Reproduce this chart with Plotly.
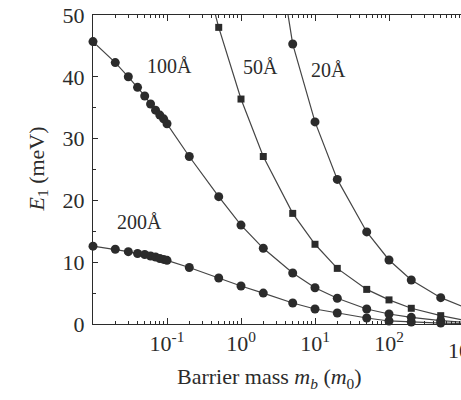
import numpy as np
import plotly.graph_objects as go

# Barrier effective mass (units of m0)
mass_200 = [0.01, 0.02, 0.03, 0.04, 0.05, 0.06, 0.07, 0.08, 0.09, 0.1,
            0.2, 0.5, 1, 2, 5, 10, 20, 50, 100, 200, 500, 1000]
e1_200 = [12.6, 12.1, 11.7, 11.4, 11.25, 11.0, 10.85, 10.6, 10.45, 10.3,
          9.15, 7.45, 6.15, 5.0, 3.4, 2.43, 1.78, 0.97, 0.49, 0.32, 0.15, 0.08]

mass_100 = [0.01, 0.02, 0.03, 0.04, 0.05, 0.06, 0.07, 0.08, 0.09, 0.1,
            0.2, 0.5, 1, 2, 5, 10, 20, 50, 100, 200, 500, 1000]
e1_100 = [45.7, 42.3, 40.0, 38.3, 36.9, 35.6, 34.6, 33.8, 33.2, 32.4,
          27.1, 20.6, 16.0, 12.25, 8.25, 5.87, 4.16, 2.43, 1.62, 1.08, 0.53, 0.3]

mass_50 = [0.2, 0.5, 1, 2, 5, 10, 20, 50, 100, 200, 500, 1000]
e1_50 = [66.0, 48.0, 36.4, 27.1, 17.9, 12.9, 9.0, 5.6, 3.9, 2.54, 1.35, 0.65]

mass_20 = [2, 5, 10, 20, 50, 100, 200, 500, 1000]
e1_20 = [75.0, 45.3, 32.7, 23.4, 14.9, 10.36, 7.12, 4.26, 2.8]

well_labels = ["100Å", "50Å", "20Å", "200Å"]
label_pos = [(-0.96, 41.7), (0.257, 41.6), (1.176, 41.1), (-1.378, 16.5)]

major_ticks = [0.1, 1, 10, 100]
major_text = ["10<sup>-1</sup>", "10<sup>0</sup>", "10<sup>1</sup>", "10<sup>2</sup>"]
minor_ticks = [m * 10.0 ** d for d in range(-2, 3) for m in range(2, 10)]

INK = "#2b2b2b"
LINE = "#454545"
SERIF = "Liberation Serif, Times New Roman, serif"

fig = go.Figure()

series = [
    (mass_200, e1_200, "circle", 9),
    (mass_100, e1_100, "circle", 9),
    (mass_50, e1_50, "square", 7),
    (mass_20, e1_20, "circle", 9),
]
for xs, ys, sym, size in series:
    fig.add_trace(go.Scatter(
        x=xs, y=ys, mode="lines+markers",
        line=dict(color=LINE, width=1.2),
        marker=dict(symbol=sym, size=size, color=INK),
        cliponaxis=False, showlegend=False,
    ))

# curve labels
for text, (lx, ly) in zip(well_labels, label_pos):
    fig.add_annotation(x=lx, y=ly, xref="x", yref="y", text=text,
                       showarrow=False, font=dict(family=SERIF, size=20, color=INK))

# 10^3 tick label sits at the right edge of the frame
fig.add_annotation(x=(463 - 93) / 368, y=-0.028, xref="paper", yref="paper",
                   text="10<sup>3</sup>", showarrow=False, xanchor="center", yanchor="top",
                   font=dict(family=SERIF, size=22, color=INK))

# axis titles
fig.add_annotation(x=(269 - 93) / 368, y=(324 - 378) / 309, xref="paper", yref="paper",
                   text="Barrier mass <i>m</i><sub><i>b</i></sub> (<i>m</i><sub>0</sub>)",
                   showarrow=False, xanchor="center", yanchor="middle",
                   font=dict(family=SERIF, size=22, color=INK))
fig.add_annotation(x=(37 - 93) / 368, y=0.5, xref="paper", yref="paper",
                   text="<i>E</i><sub>1</sub> (meV)", textangle=-90,
                   showarrow=False, xanchor="center", yanchor="middle",
                   font=dict(family=SERIF, size=22, color=INK))

fig.update_xaxes(
    type="log", range=[-2, -2 + 368 / 74],
    tickmode="array", tickvals=major_ticks, ticktext=major_text,
    ticks="inside", ticklen=6, tickcolor=INK, tickwidth=1,
    minor=dict(tickmode="array", tickvals=minor_ticks, ticks="inside",
               ticklen=3, tickcolor=INK, tickwidth=1),
    showline=True, linecolor=INK, linewidth=1, mirror="ticks",
    showgrid=False, zeroline=False,
    tickfont=dict(family=SERIF, size=22, color=INK),
)
fig.update_yaxes(
    range=[0, 50], tickmode="array", tickvals=[0, 10, 20, 30, 40, 50],
    ticks="inside", ticklen=5, tickcolor=INK, tickwidth=1,
    minor=dict(tickmode="array", tickvals=[5, 15, 25, 35, 45], ticks="inside",
               ticklen=3, tickcolor=INK, tickwidth=1),
    showline=True, linecolor=INK, linewidth=1, mirror=False,
    showgrid=False, zeroline=False,
    ticklabelstandoff=3,
    tickfont=dict(family=SERIF, size=22, color=INK),
)

fig.update_layout(
    width=461, height=400,
    margin=dict(l=93, r=0, t=15, b=76),
    plot_bgcolor="white", paper_bgcolor="white",
)

fig.write_html("out.html")
